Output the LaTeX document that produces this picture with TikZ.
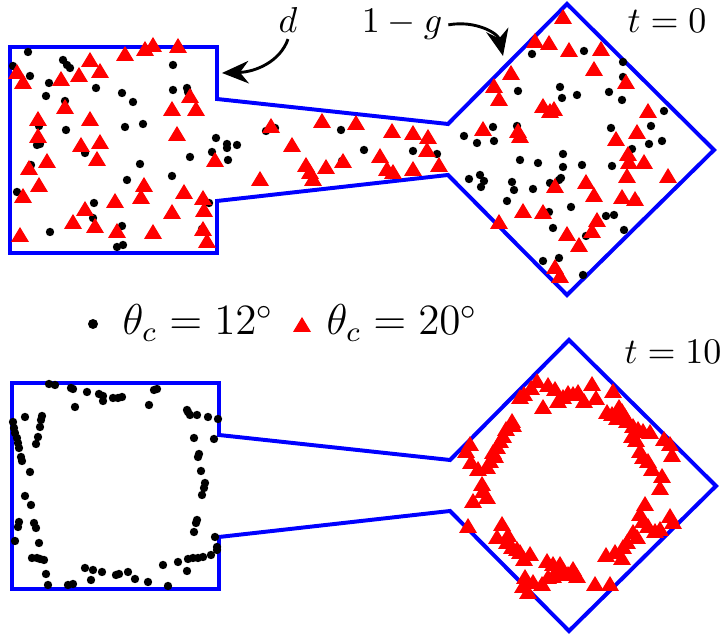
\documentclass[tikz,border=0pt]{standalone}
\usetikzlibrary{arrows.meta}
\definecolor{cwall}{HTML}{0000FF}
\definecolor{cred}{HTML}{FF0000}
\tikzset{
  wall/.style={draw=cwall, line width=1.1pt, line join=miter},
  dot12/.style={fill=black},
  tri20/.style={fill=cred},
  lab/.style={inner sep=1.5pt, anchor=base},
  labarrow/.style={-{Stealth[length=2.6mm, width=2.2mm]}, line width=0.8pt},
}
% one chamber: box, neck, diamond (pixel units, y down)
\newcommand{\chamber}{(10,47) -- (217,47) -- (217,99) -- (448,124) -- (567,4) -- (714,150)
  -- (567,295) -- (448,175) -- (217,201) -- (217,253) -- (10,253) -- cycle}
\begin{document}
\begin{tikzpicture}[x=0.2778pt, y=-0.2778pt]
  \useasboundingbox (0,0) rectangle (726,635);
  % t = 0
  \draw[wall] \chamber;
  \foreach \x/\y in {28/52, 13/66, 30/76, 63/60, 67/65, 70/68, 49/83, 46/96, 65/101, 96/88, 122/93,
    133/102, 173/65, 173/90, 187/88, 188/92, 39/126, 66/130, 125/127, 143/124, 37/145, 40/144,
    85/153, 216/138, 227/144, 227/148, 237/145, 212/152, 228/160, 190/157, 140/164, 31/165,
    172/176, 127/180, 17/192, 94/203, 116/203, 209/203, 93/218, 50/232, 122/226, 202/229,
    123/245, 117/247, 266/131, 275/128, 341/130, 364/150, 342/161, 413/151, 437/154,
    584/51, 532/54, 623/62, 623/77, 518/91, 560/87, 562/98, 577/95, 609/92, 622/100, 664/111,
    493/127, 517/126, 464/136, 477/143, 494/141, 611/128, 651/126, 649/144, 662/141, 632/149,
    563/154, 520/160, 538/163, 563/167, 582/165, 612/166, 469/179, 480/175, 484/181, 481/187,
    512/182, 514/190, 533/189, 550/183, 559/180, 561/178, 507/201, 571/207, 549/212, 606/216,
    614/215, 553/228, 624/230, 586/236, 543/261, 559/258, 583/275, 636/200}
    \fill[dot12] (\x,\y) circle[radius=4.2];
  \foreach \x/\y in {153/46, 145/50, 125/55, 178/47, 90/61, 100/72, 79/76, 61/80, 17/73, 23/83,
    190/97, 196/110, 172/110, 65/108, 38/120, 90/120, 38/137, 177/135, 81/146, 100/143, 97/160,
    47/162, 29/169, 39/186, 23/197, 144/186, 141/198, 184/193, 203/199, 204/211, 172/213,
    115/202, 85/210, 73/223, 95/227, 117/232, 153/233, 203/230, 207/242, 20/236, 215/161,
    271/127, 292/146, 322/122, 356/124, 392/132, 413/134, 428/138, 427/151, 380/157, 387/170,
    393/173, 413/170, 439/166, 306/166, 310/173, 313/180, 326/168, 343/162, 260/180,
    563/18, 535/42, 549/44, 569/51, 601/50, 594/70, 511/74, 494/87, 499/100, 626/83, 543/107,
    550/112, 554/110, 648/112, 483/130, 518/132, 520/137, 616/140, 637/133, 628/155, 629/163,
    644/163, 627/177, 668/177, 555/187, 586/183, 594/196, 622/198, 635/200, 523/212, 543/213,
    499/223, 597/221, 592/232, 567/235, 579/246, 555/268, 560/277}
    \fill[tri20] (\x,\y) +(-9,6) -- +(9,6) -- +(0,-9) -- cycle;
  \node[lab] (dlab) at (288,33) {$d$};
  \node[lab] (glab) at (402,33) {$1-g$};
  \node[lab] (t0) at (667,33) {$t=0$};
  \coordinate (dtip) at (222,73);
  \coordinate (gtip) at (503,56);
  \draw[labarrow] (dlab.south) .. controls (280,62) and (255,72) .. (dtip);
  \draw[labarrow] (glab.east) .. controls (475,20) and (498,33) .. (gtip);
  % legend
  \fill[dot12] (93,324) circle[radius=5];
  \node[lab, anchor=base west, inner sep=0pt, font=\large] (leg12) at (122,335) {$\theta_c=12^\circ$};
  \fill[tri20] (302,326) +(-9,6) -- +(9,6) -- +(0,-9) -- cycle;
  \node[lab, anchor=base west, inner sep=0pt, font=\large] (leg20) at (326,335) {$\theta_c=20^\circ$};
  % t = 10
  \draw[wall, shift={(2,336)}] \chamber;
  \foreach \x/\y in {49/384, 55/385, 71/388, 73/389, 87/392, 99/394, 103/396, 103/401, 113/398,
    118/398, 122/397, 154/390, 157/389, 149/405, 75/407, 25/417, 13/422, 14/428, 15/433, 17/438,
    18/443, 19/448, 42/416, 41/420, 40/427, 38/437, 36/444, 21/457, 22/461, 30/472, 25/496,
    31/505, 19/522, 18/527, 15/541, 34/523, 36/528, 39/543, 32/558, 37/558, 40/559, 44/560,
    46/574, 48/585, 68/585, 73/584, 85/568, 93/570, 102/572, 91/580, 116/575, 119/574, 128/572,
    135/579, 148/582, 168/586, 163/565, 178/562, 187/571, 188/559, 193/558, 198/558, 203/557,
    211/555, 217/547, 217/550, 215/537, 194/532, 196/523, 197/520, 202/495, 204/488, 205/483,
    201/471, 198/457, 199/454, 194/438, 214/439, 188/412, 190/415, 197/415, 208/417, 218/419,
    187/410}
    \fill[dot12] (\x,\y) circle[radius=4.2];
  \foreach \x/\y in {537/382, 548/386, 555/390, 568/394, 573/395, 578/393, 592/385, 613/392,
    524/395, 520/398, 584/402, 558/402, 543/408, 607/413, 612/415, 622/412, 625/417, 627/422,
    633/427, 638/430, 643/432, 650/433, 632/437, 512/422, 513/426, 503/437, 500/442, 497/448,
    493/453, 490/462, 487/468, 470/445, 466/452, 471/463, 640/452, 643/458, 648/462, 670/445,
    672/456, 652/470, 662/477, 660/489, 482/485, 483/492, 473/502, 487/498, 640/515, 643/522,
    670/517, 673/523, 633/533, 627/543, 623/548, 655/532, 660/530, 622/559, 606/556, 468/527,
    502/525, 497/538, 507/543, 512/548, 517/550, 520/553, 530/555, 547/562, 553/565, 558/570,
    563/573, 568/575, 573/570, 577/577, 548/578, 553/577, 542/585, 525/578, 523/587, 528/593,
    595/585, 610/585, 531/389, 563/398, 596/399, 617/419, 636/441, 506/430, 495/457, 478/470,
    645/505, 648/527, 637/538, 615/553, 508/536, 524/560, 560/565, 533/583, 664/440, 619/408}
    \fill[tri20] (\x,\y) +(-9,6) -- +(9,6) -- +(0,-9) -- cycle;
  \node[lab] (t10) at (673,364) {$t=10$};
\end{tikzpicture}
\end{document}
